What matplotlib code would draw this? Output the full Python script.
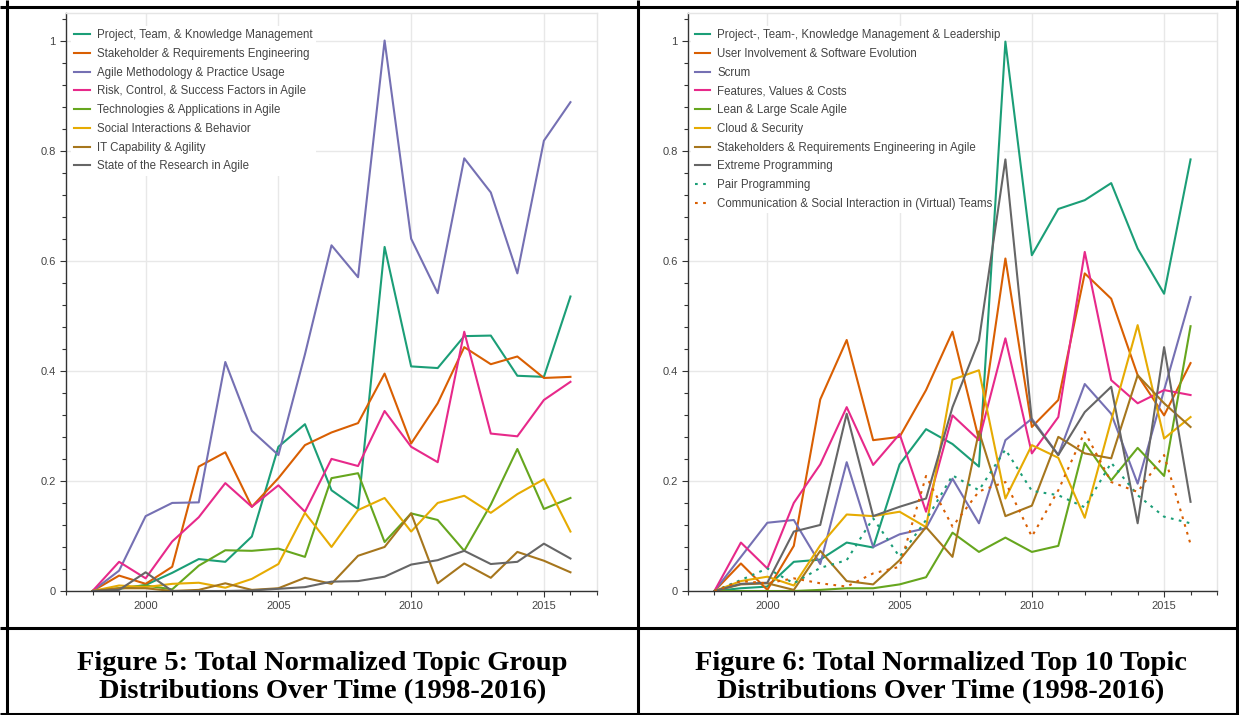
import matplotlib
matplotlib.use('Agg')
import matplotlib.pyplot as plt
from matplotlib.lines import Line2D
from matplotlib.ticker import MultipleLocator, FuncFormatter

years = list(range(1998, 2017))

# ---------------- Figure 5 data ----------------
left_labels = [
    "Project, Team, & Knowledge Management",
    "Stakeholder & Requirements Engineering",
    "Agile Methodology & Practice Usage",
    "Risk, Control, & Success Factors in Agile",
    "Technologies & Applications in Agile",
    "Social Interactions & Behavior",
    "IT Capability & Agility",
    "State of the Research in Agile",
]
proj_team_km = [0, 0.004, 0.011, 0.033, 0.058, 0.053, 0.099, 0.262, 0.303, 0.183, 0.149, 0.625, 0.408, 0.405, 0.463, 0.464, 0.391, 0.389, 0.535]
stakeholder_req = [0, 0.028, 0.013, 0.044, 0.226, 0.252, 0.153, 0.205, 0.265, 0.288, 0.305, 0.395, 0.268, 0.341, 0.443, 0.412, 0.426, 0.387, 0.389]
agile_method = [0, 0.037, 0.136, 0.160, 0.161, 0.416, 0.291, 0.247, 0.430, 0.628, 0.570, 1.0, 0.640, 0.541, 0.786, 0.724, 0.577, 0.818, 0.888]
risk_control = [0, 0.053, 0.023, 0.090, 0.134, 0.196, 0.153, 0.192, 0.144, 0.240, 0.227, 0.327, 0.262, 0.234, 0.471, 0.286, 0.281, 0.347, 0.380]
tech_apps = [0, 0.005, 0.010, 0.003, 0.046, 0.074, 0.073, 0.077, 0.062, 0.205, 0.214, 0.089, 0.141, 0.129, 0.073, 0.157, 0.258, 0.149, 0.169]
social = [0, 0.010, 0.007, 0.013, 0.015, 0.006, 0.022, 0.049, 0.142, 0.080, 0.147, 0.169, 0.108, 0.160, 0.173, 0.142, 0.176, 0.203, 0.108]
it_capability = [0, 0.005, 0.005, 0.0, 0.002, 0.014, 0.002, 0.005, 0.024, 0.013, 0.064, 0.080, 0.141, 0.014, 0.050, 0.024, 0.071, 0.055, 0.034]
state_research = [0, 0.002, 0.034, 0.0, 0.0, 0.0, 0.001, 0.004, 0.007, 0.017, 0.018, 0.026, 0.048, 0.056, 0.073, 0.049, 0.053, 0.086, 0.059]
left_series = [proj_team_km, stakeholder_req, agile_method, risk_control,
               tech_apps, social, it_capability, state_research]

# ---------------- Figure 6 data ----------------
right_labels = [
    "Project-, Team-, Knowledge Management & Leadership",
    "User Involvement & Software Evolution",
    "Scrum",
    "Features, Values & Costs",
    "Lean & Large Scale Agile",
    "Cloud & Security",
    "Stakeholders & Requirements Engineering in Agile",
    "Extreme Programming",
    "Pair Programming",
    "Communication & Social Interaction in (Virtual) Teams",
]
ptk_leadership = [0, 0.005, 0.008, 0.053, 0.057, 0.088, 0.079, 0.230, 0.294, 0.267, 0.226, 0.998, 0.610, 0.694, 0.710, 0.741, 0.622, 0.540, 0.784]
user_involvement = [0, 0.050, 0.002, 0.082, 0.348, 0.456, 0.274, 0.280, 0.365, 0.471, 0.275, 0.604, 0.298, 0.347, 0.577, 0.531, 0.392, 0.319, 0.414]
scrum = [0, 0.062, 0.124, 0.129, 0.049, 0.234, 0.080, 0.103, 0.114, 0.204, 0.123, 0.274, 0.313, 0.247, 0.376, 0.322, 0.195, 0.365, 0.534]
features = [0, 0.088, 0.041, 0.160, 0.230, 0.334, 0.229, 0.285, 0.144, 0.319, 0.274, 0.459, 0.250, 0.316, 0.616, 0.383, 0.341, 0.365, 0.356]
lean = [0, 0.0, 0.0, 0.0, 0.002, 0.005, 0.005, 0.012, 0.025, 0.106, 0.071, 0.097, 0.071, 0.082, 0.269, 0.201, 0.260, 0.209, 0.481]
cloud = [0, 0.018, 0.026, 0.010, 0.083, 0.139, 0.136, 0.144, 0.116, 0.384, 0.401, 0.168, 0.265, 0.242, 0.133, 0.310, 0.483, 0.277, 0.316]
stakeholders_agile = [0, 0.012, 0.014, 0.002, 0.073, 0.018, 0.012, 0.056, 0.116, 0.062, 0.290, 0.136, 0.155, 0.280, 0.250, 0.241, 0.392, 0.341, 0.298]
extreme_prog = [0, 0.013, 0.015, 0.108, 0.120, 0.322, 0.136, 0.153, 0.168, 0.334, 0.455, 0.784, 0.310, 0.247, 0.325, 0.371, 0.123, 0.443, 0.162]
pair_prog = [0, 0.020, 0.041, 0.014, 0.042, 0.056, 0.132, 0.062, 0.129, 0.210, 0.183, 0.257, 0.182, 0.174, 0.152, 0.233, 0.174, 0.135, 0.123]
communication = [0, 0.018, 0.014, 0.023, 0.014, 0.008, 0.032, 0.044, 0.209, 0.117, 0.181, 0.198, 0.099, 0.183, 0.289, 0.198, 0.180, 0.247, 0.085]
right_series = [ptk_leadership, user_involvement, scrum, features, lean, cloud,
                stakeholders_agile, extreme_prog, pair_prog, communication]

captions_left = ["Figure 5: Total Normalized Topic Group",
                 "Distributions Over Time (1998-2016)"]
captions_right = ["Figure 6: Total Normalized Top 10 Topic",
                  "Distributions Over Time (1998-2016)"]

dark2 = ['#1b9e77', '#d95f02', '#7570b3', '#e7298a', '#66a61e', '#e6ab02', '#a6761d', '#666666']

plt.rcParams['font.family'] = ['Liberation Sans', 'DejaVu Sans']

W, H = 1239, 715
fig = plt.figure(figsize=(W / 100, H / 100), dpi=100)


def px_rect(x0, y0, x1, y1):
    return [x0 / W, 1 - y1 / H, (x1 - x0) / W, (y1 - y0) / H]


def style_axes(ax):
    ax.set_xlim(1997, 2017)
    ax.set_ylim(0, 1.05)
    ax.xaxis.set_major_locator(MultipleLocator(5))
    ax.xaxis.set_minor_locator(MultipleLocator(1))
    ax.yaxis.set_major_locator(MultipleLocator(0.2))
    ax.yaxis.set_minor_locator(MultipleLocator(0.04))
    ax.yaxis.set_major_formatter(FuncFormatter(lambda v, p: '%g' % round(v, 2)))
    ax.grid(True, which='major', color='#e8e8e8', lw=1.0)
    ax.set_axisbelow(True)
    for s in ('top', 'right'):
        ax.spines[s].set_color('#e5e5e5')
        ax.spines[s].set_linewidth(1.0)
    for s in ('left', 'bottom'):
        ax.spines[s].set_color('#333333')
        ax.spines[s].set_linewidth(1.0)
    ax.tick_params(which='major', direction='out', length=4.5, width=0.8,
                   color='#333333', labelsize=8, labelcolor='#444444', pad=3)
    ax.tick_params(which='minor', direction='out', length=3, width=0.8, color='#333333')


def style_legend(leg):
    leg.get_frame().set_edgecolor('none')
    leg.get_frame().set_facecolor('white')
    leg.get_frame().set_alpha(1)
    leg.set_zorder(1.5)  # above grid, below data lines
    for t in leg.get_texts():
        t.set_color('#444444')


# Left chart
axL = fig.add_axes(px_rect(66, 13, 597, 591))
for vals, lab, col in zip(left_series, left_labels, dark2):
    axL.plot(years, vals, color=col, lw=1.5, label=lab, zorder=2)
style_axes(axL)
legL = axL.legend(loc='upper left', bbox_to_anchor=(0.009, 0.978), frameon=True,
                  fontsize=8.3, handlelength=1.35, handletextpad=0.6,
                  labelspacing=0.585, borderpad=0.3, borderaxespad=0)
style_legend(legL)

# Right chart
axR = fig.add_axes(px_rect(688, 13, 1217, 591))
for i, (vals, lab) in enumerate(zip(right_series, right_labels)):
    if i < 8:
        axR.plot(years, vals, color=dark2[i], lw=1.5, label=lab, zorder=2)
    else:
        axR.plot(years, vals, color=dark2[i - 8], lw=1.5, ls=(0, (1.3, 2.6)),
                 label=lab, zorder=2)
style_axes(axR)
legR = axR.legend(loc='upper left', bbox_to_anchor=(0.006, 0.978), frameon=True,
                  fontsize=8.3, handlelength=1.35, handletextpad=0.6,
                  labelspacing=0.585, borderpad=0.3, borderaxespad=0)
style_legend(legR)

# Captions (two lines each)
cap_kw = dict(ha='center', va='baseline', family=['Liberation Serif', 'DejaVu Serif'],
              fontweight='bold', fontsize=20.5, color='black')
for cx, lines in ((322.5, captions_left), (941, captions_right)):
    fig.text(cx / W, 1 - 670 / H, lines[0], **cap_kw)
    fig.text(cx / W, 1 - 698 / H, lines[1], **cap_kw)


# Frame lines
def fline(x0, y0, x1, y1, lw=2.2):
    fig.add_artist(Line2D([x0 / W, x1 / W], [1 - y0 / H, 1 - y1 / H],
                          color='black', lw=lw, solid_capstyle='butt'))


fline(0, 6.5, W, 6.5)
fline(7, 0, 7, H)
fline(638, 0, 638, H)
fline(W - 2, 0, W - 2, H)
fline(0, 628, W, 628)
fline(0, 714, W, 714)

fig.savefig('out.png', dpi=100)
